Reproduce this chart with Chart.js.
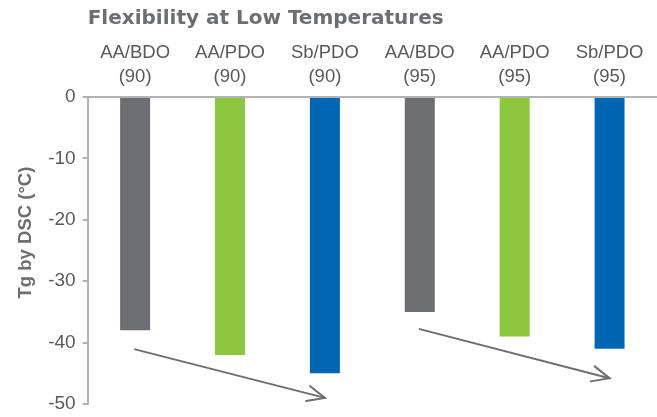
<!DOCTYPE html>
<html>
<head>
<meta charset="utf-8">
<script src="https://cdn.jsdelivr.net/npm/chart.js@4/dist/chart.umd.min.js"></script>
<style>
html,body{margin:0;padding:0;background:#fff;}
#wrap{width:657px;height:417px;position:relative;}
</style>
</head>
<body>
<div id="wrap"><canvas id="c"></canvas></div>
<script>
const categories = [["AA/BDO","(90)"],["AA/PDO","(90)"],["Sb/PDO","(90)"],["AA/BDO","(95)"],["AA/PDO","(95)"],["Sb/PDO","(95)"]];
const tgValues = [-38, -42, -45, -35, -39, -41];
const barColors = ["#6d6e71", "#8dc63f", "#0066b3", "#6d6e71", "#8dc63f", "#0066b3"];
const yTicks = [0, -10, -20, -30, -40, -50];
// trend arrows: [startCategoryIndex, startValue, endCategoryIndex, endValue]
const arrows = [[0, -41.1, 2, -49.0], [3, -37.8, 5, -45.8]];

const SANS = '"Liberation Sans", Arial, sans-serif';

const arrowPlugin = {
  id: 'arrows',
  afterDatasetsDraw(chart) {
    const ctx = chart.ctx, xs = chart.scales.x, ys = chart.scales.y;
    ctx.save();
    ctx.strokeStyle = '#6d6e71';
    ctx.lineWidth = 2;
    ctx.lineCap = 'round';
    arrows.forEach(a => {
      const x1 = xs.getPixelForValue(a[0]), y1 = ys.getPixelForValue(a[1]);
      const x2 = xs.getPixelForValue(a[2]), y2 = ys.getPixelForValue(a[3]);
      ctx.beginPath(); ctx.moveTo(x1, y1); ctx.lineTo(x2, y2); ctx.stroke();
      const ang = Math.atan2(y2 - y1, x2 - x1), L = 19, spread = 0.42;
      ctx.beginPath();
      ctx.moveTo(x2 - L * Math.cos(ang - spread), y2 - L * Math.sin(ang - spread));
      ctx.lineTo(x2, y2);
      ctx.lineTo(x2 - L * Math.cos(ang + spread), y2 - L * Math.sin(ang + spread));
      ctx.stroke();
    });
    ctx.restore();
  }
};

new Chart(document.getElementById('c'), {
  type: 'bar',
  data: {
    labels: categories,
    datasets: [{ data: tgValues, backgroundColor: barColors, barPercentage: 0.316, categoryPercentage: 1 }]
  },
  options: {
    responsive: true,
    maintainAspectRatio: false,
    animation: false,
    layout: { padding: { top: 4, right: 0, bottom: 0, left: 15 } },
    plugins: {
      legend: { display: false },
      tooltip: { enabled: false },
      title: {
        display: true,
        text: 'Flexibility at Low Temperatures',
        align: 'start',
        fullSize: false,
        color: '#6d6e71',
        font: { family: '"DejaVu Sans", sans-serif', weight: 'bold', size: 20, lineHeight: 1.2 },
        padding: { top: 3, bottom: 2 }
      }
    },
    scales: {
      x: {
        position: 'top',
        grid: { display: false, drawTicks: false, tickLength: 0 },
        border: { display: true, color: '#b3b3b3', width: 2 },
        ticks: { color: '#58595b', font: { family: SANS, size: 18.5, lineHeight: 1.3 }, padding: 8, maxRotation: 0 }
      },
      y: {
        min: -50, max: 0,
        afterBuildTicks(scale) { scale.ticks = yTicks.map(v => ({ value: v })); },
        afterFit(scale) { scale.paddingBottom = 13; },
        grid: { drawOnChartArea: false, tickLength: 5, color: '#b3b3b3', lineWidth: 2 },
        border: { display: true, color: '#b3b3b3', width: 2 },
        ticks: { color: '#58595b', font: { family: SANS, size: 19, lineHeight: 0.8 }, padding: 7 },
        title: { display: true, text: '       Tg by DSC (°C)', color: '#6d6e71', font: { family: SANS, weight: 'bold', size: 18.5 }, padding: { top: 0, bottom: 4 } }
      }
    }
  },
  plugins: [arrowPlugin]
});
</script>
</body>
</html>
